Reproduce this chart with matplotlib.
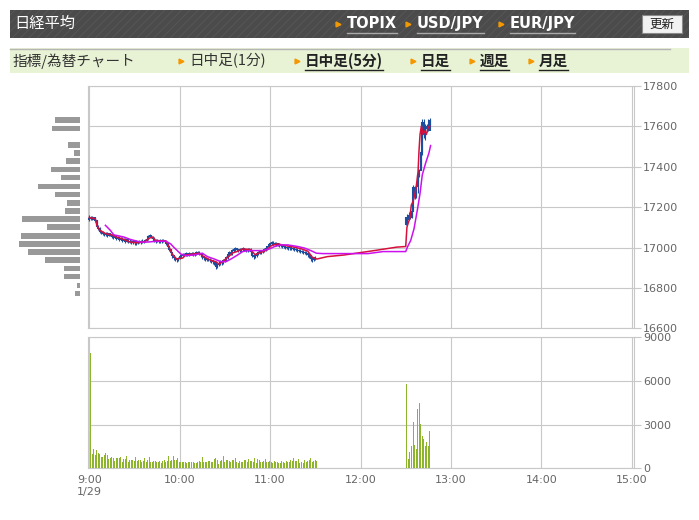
import matplotlib

matplotlib.use("Agg")
import matplotlib.pyplot as plt
from matplotlib.patches import Rectangle
from matplotlib.lines import Line2D

plt.rcParams["font.family"] = ["Noto Sans CJK JP", "DejaVu Sans"]
plt.rcParams["hatch.linewidth"] = 0.6

W, H = 699, 520

# ---- data (minutes after 9:00) ----
am_first_open = 17140
am_close = [
    17145, 17150, 17140, 17148, 17135, 17105, 17095, 17080, 17075, 17070,
    17065, 17070, 17060, 17068, 17062, 17055, 17050, 17058, 17045, 17050,
    17040, 17045, 17035, 17042, 17030, 17038, 17028, 17032, 17025, 17030,
    17022, 17028, 17025, 17030, 17024, 17032, 17028, 17035, 17040, 17055,
    17060, 17050, 17045, 17035, 17030, 17032, 17028, 17035, 17030, 17033,
    17028, 17020, 17005, 16990, 16975, 16960, 16950, 16945, 16940, 16948,
    16955, 16962, 16968, 16965, 16970, 16966, 16970, 16968, 16972, 16965,
    16970, 16975, 16978, 16970, 16965, 16955, 16950, 16945, 16940, 16942,
    16938, 16935, 16930, 16925, 16905, 16915, 16920, 16930, 16925, 16935,
    16940, 16950, 16965, 16975, 16970, 16985, 16990, 16995, 16990, 16985,
    16992, 16988, 16995, 16990, 16985, 16990, 16992, 16980, 16960, 16955,
    16960, 16970, 16975, 16980, 16978, 16985, 16990, 16995, 17005, 17015,
    17020, 17025, 17020, 17022, 17018, 17015, 17012, 17010, 17005, 17008,
    17000, 17003, 16998, 17000, 16995, 16998, 16990, 16993, 16985, 16988,
    16980, 16982, 16975, 16978, 16970, 16965, 16960, 16945, 16940, 16945,
    16950,
]
am_high = [
    17160, 17158, 17155, 17152, 17150, 17138, 17110, 17100, 17088, 17082,
    17078, 17076, 17075, 17074, 17072, 17068, 17062, 17064, 17062, 17056,
    17055, 17052, 17050, 17048, 17046, 17044, 17042, 17040, 17038, 17036,
    17034, 17035, 17034, 17038, 17036, 17040, 17038, 17042, 17048, 17060,
    17068, 17064, 17055, 17050, 17040, 17040, 17038, 17042, 17040, 17040,
    17038, 17032, 17024, 17010, 16995, 16980, 16965, 16955, 16950, 16955,
    16962, 16968, 16975, 16974, 16976, 16975, 16976, 16975, 16978, 16976,
    16976, 16982, 16985, 16982, 16975, 16968, 16960, 16955, 16950, 16950,
    16948, 16945, 16940, 16935, 16930, 16920, 16926, 16936, 16935, 16942,
    16948, 16958, 16972, 16982, 16980, 16992, 16998, 17002, 17000, 16995,
    16998, 16998, 17002, 17000, 16995, 16996, 16998, 16996, 16984, 16965,
    16966, 16976, 16982, 16986, 16986, 16990, 16996, 17002, 17010, 17022,
    17026, 17030, 17030, 17028, 17026, 17024, 17020, 17018, 17015, 17014,
    17012, 17010, 17008, 17006, 17004, 17004, 17002, 17000, 16998, 16994,
    16992, 16988, 16986, 16984, 16982, 16975, 16970, 16964, 16950, 16952,
    16956,
]
am_low = [
    17132, 17138, 17135, 17135, 17128, 17100, 17085, 17072, 17065, 17062,
    17058, 17058, 17052, 17055, 17055, 17045, 17042, 17045, 17038, 17040,
    17032, 17035, 17028, 17030, 17022, 17025, 17020, 17022, 17018, 17018,
    17015, 17015, 17018, 17020, 17016, 17020, 17020, 17025, 17030, 17036,
    17050, 17045, 17038, 17028, 17022, 17025, 17020, 17022, 17024, 17025,
    17020, 17012, 16998, 16982, 16965, 16950, 16940, 16932, 16930, 16935,
    16942, 16950, 16958, 16958, 16960, 16960, 16960, 16962, 16962, 16958,
    16960, 16965, 16970, 16962, 16955, 16945, 16940, 16935, 16932, 16932,
    16930, 16925, 16920, 16915, 16893, 16898, 16908, 16912, 16915, 16920,
    16928, 16935, 16945, 16960, 16962, 16965, 16978, 16985, 16982, 16978,
    16980, 16980, 16982, 16982, 16978, 16978, 16984, 16972, 16952, 16945,
    16948, 16955, 16965, 16970, 16970, 16972, 16978, 16985, 16990, 17000,
    17010, 17015, 17012, 17014, 17010, 17008, 17005, 17002, 16998, 16998,
    16992, 16994, 16990, 16990, 16986, 16988, 16982, 16984, 16978, 16978,
    16972, 16972, 16966, 16968, 16962, 16955, 16948, 16935, 16930, 16934,
    16940,
]
am_vol = [
    7900, 1000, 1300, 900, 1250, 1050, 980, 800, 780, 880,
    1050, 900, 650, 720, 750, 720, 480, 720, 680, 700,
    800, 450, 650, 650, 850, 460, 560, 580, 580, 500,
    750, 480, 550, 550, 440, 500, 720, 460, 560, 800,
    440, 420, 520, 500, 460, 460, 520, 350, 500, 550,
    400, 500, 860, 500, 550, 870, 600, 560, 720, 420,
    420, 420, 450, 400, 380, 450, 420, 440, 400, 380,
    380, 450, 500, 450, 800, 450, 400, 450, 500, 480,
    450, 420, 650, 700, 580, 300, 500, 580, 850, 400,
    550, 560, 500, 420, 550, 600, 700, 400, 350, 500,
    450, 400, 600, 550, 400, 650, 480, 480, 450, 700,
    380, 650, 600, 400, 420, 500, 650, 400, 450, 520,
    420, 350, 500, 420, 400, 350, 380, 480, 420, 350,
    500, 450, 400, 600, 500, 700, 520, 480, 650, 360,
    400, 350, 600, 400, 500, 550, 700, 400, 500, 600,
    500,
]

pm_start = 210  # 12:30
pm_first_open = 17150
pm_close = [17115, 17140, 17160, 17150, 17180, 17300, 17250, 17300, 17355,
            17380, 17470, 17620, 17560, 17600, 17590, 17580, 17630]
pm_high = [17152, 17168, 17175, 17185, 17190, 17310, 17305, 17320, 17360,
           17390, 17477, 17635, 17635, 17610, 17610, 17635, 17643]
pm_low = [17110, 17135, 17140, 17143, 17148, 17227, 17240, 17245, 17268,
          17350, 17385, 17460, 17540, 17535, 17570, 17575, 17600]
pm_vol = [5790, 610, 1090, 1500, 3200, 1630, 1360, 4090, 4500, 3060,
          2250, 2040, 1500, 1840, 1500, 2590]

# moving averages
ma_short_t = [0, 4, 5, 7, 11, 15, 18, 23, 27, 32, 37, 40, 42, 44, 51, 53, 55,
              58, 62, 64, 73, 76, 81, 84, 86, 88, 92, 95, 98, 102, 107, 110,
              113, 117, 121, 125, 130, 136, 141, 145, 148, 151, 158, 169, 180,
              191, 204, 210, 210.8, 211.5, 212.7, 213.7, 214.8, 216, 217,
              218.2, 218.8, 219.5, 220.4, 221.5, 222.6, 223.7, 224.8, 225.9]
ma_short_v = [17148, 17143, 17110, 17085, 17068, 17063, 17052, 17040, 17027,
              17023, 17030, 17047, 17052, 17035, 17032, 17002, 16968, 16943,
              16948, 16963, 16972, 16955, 16935, 16930, 16918, 16927, 16952,
              16973, 16980, 16993, 16990, 16965, 16973, 16985, 17010, 17018,
              17010, 17002, 16993, 16982, 16952, 16943, 16955, 16963, 16975,
              16987, 17002, 17005, 17100, 17118, 17143, 17210, 17227, 17260,
              17302, 17377, 17477, 17560, 17602, 17560, 17577, 17560, 17593,
              17602]
ma_long_t = [10.7, 14, 16.2, 23, 27.3, 34, 38.4, 43, 50.7, 54, 56, 60.7, 64,
             69.6, 75, 78.4, 83, 87.3, 90.7, 94, 98.4, 101.8, 106, 110.7, 115,
             119.6, 123, 127, 131.8, 138.4, 143, 147, 150.7, 155, 185, 195,
             210, 211.1, 213.3, 215.5, 217.7, 219.5, 221, 223.2, 225.4, 226.5]
ma_long_v = [17110, 17085, 17063, 17052, 17040, 17027, 17027, 17030, 17032,
             17018, 17002, 16968, 16960, 16963, 16972, 16955, 16943, 16930,
             16930, 16943, 16963, 16980, 16985, 16985, 16985, 16993, 17005,
             17013, 17013, 17005, 16997, 16985, 16972, 16970, 16970, 16980,
             16980, 17002, 17035, 17093, 17185, 17268, 17360, 17418, 17468,
             17505]

# volume-by-price profile (left side)
profile_price = [17630, 17590, 17507, 17467, 17427, 17387, 17347, 17302,
                 17262, 17222, 17182, 17142, 17102, 17057, 17017, 16977,
                 16937, 16897, 16857, 16812, 16772]
profile_vol = [25, 28, 12, 6, 14, 29, 19, 42, 25, 13, 15, 58, 33, 59, 61,
               52, 35, 16, 16, 3, 5]

hour_labels = ["9:00\n1/29", "10:00", "11:00", "12:00", "13:00", "14:00", "15:00"]
price_ticks = [16600, 16800, 17000, 17200, 17400, 17600, 17800]
vol_ticks = [0, 3000, 6000, 9000]

# ---- styles ----
GRID = "#c8c8c8"
TICKC = "#666666"
CANDLE = "#1c4ea0"
RED = "#d6103c"
MAG = "#cc11ee"
VOLC = "#8db52b"
PX = 0.72  # one pixel in points


def fx(x):
    return x / W


def fy(y):
    return 1 - y / H


def style_axes(ax):
    for s in ax.spines.values():
        s.set_color(GRID)
        s.set_linewidth(0.8)
    ax.grid(True, color=GRID, linewidth=0.8)
    ax.set_axisbelow(True)
    ax.yaxis.tick_right()
    ax.tick_params(axis="y", colors=GRID, length=5, width=0.8, pad=1.5,
                   labelcolor=TICKC, labelsize=8)
    for lab in ax.get_yticklabels():
        lab.set_family("DejaVu Sans")


fig = plt.figure(figsize=(W / 100, H / 100), dpi=100)
fig.patch.set_facecolor("white")

# ---- header bars ----
fig.add_artist(Rectangle((fx(10), fy(37.5)), fx(679), 27.5 / H, transform=fig.transFigure,
                         facecolor="#4b4b4b", edgecolor="#585858", hatch="////", linewidth=0))
fig.text(fx(14), fy(23.5), "日経平均", color="white", fontsize=11, va="center", ha="left")
for tx, label in [(338, "TOPIX"), (408, "USD/JPY"), (501, "EUR/JPY")]:
    fig.add_artist(Line2D([fx(tx)], [fy(24)], marker=">", markersize=3.5, color="#f39800",
                          transform=fig.transFigure))
    fig.text(fx(tx + 9), fy(23.5), label, color="white", fontsize=10.5, fontweight="bold",
             va="center", ha="left", family=["DejaVu Sans"])
fig.canvas.draw()
r = fig.canvas.get_renderer()
for t in fig.texts[1:]:
    bb = t.get_window_extent(r)
    fig.add_artist(Line2D([bb.x0 / W, bb.x1 / W], [fy(33), fy(33)], color="#aaaaaa",
                          linewidth=1.0, transform=fig.transFigure))
fig.add_artist(Rectangle((fx(642), fy(33)), fx(40), 18 / H, transform=fig.transFigure,
                         facecolor="#f2f2f2", edgecolor="#8a8a8a", linewidth=0.8))
fig.text(fx(662), fy(24), "更新", color="#222222", fontsize=9, va="center", ha="center")

fig.add_artist(Rectangle((fx(10), fy(73.5)), fx(679), 25 / H, transform=fig.transFigure,
                         facecolor="#e8f2d5", edgecolor="none"))
fig.add_artist(Line2D([fx(10), fx(670)], [fy(48.5), fy(48.5)], color="#b5b5b5",
                      linewidth=1.0, transform=fig.transFigure))
fig.text(fx(13), fy(61), "指標/為替チャート", color="#333333", fontsize=10.5, va="center")
fig.add_artist(Line2D([fx(181)], [fy(61)], marker=">", markersize=3.5, color="#f39800",
                      transform=fig.transFigure))
fig.text(fx(189), fy(61), "日中足(1分)", color="#333333", fontsize=10.5, va="center")
for tx, label in [(297, "日中足(5分)"), (413, "日足"), (472, "週足"), (531, "月足")]:
    fig.add_artist(Line2D([fx(tx)], [fy(61)], marker=">", markersize=3.5, color="#f39800",
                          transform=fig.transFigure))
    t = fig.text(fx(tx + 8), fy(61), label, color="#222222", fontsize=10.5,
                 fontweight="bold", va="center")
    bb = t.get_window_extent(r)
    fig.add_artist(Line2D([bb.x0 / W, bb.x1 / W], [fy(69.5), fy(69.5)], color="#222222",
                          linewidth=1.0, transform=fig.transFigure))

# ---- axes ----
L, R = 87.7, 634
ax = fig.add_axes([fx(L), fy(328.3), fx(R - L), (328.3 - 86) / H])
axv = fig.add_axes([fx(L), fy(468.3), fx(R - L), (468.3 - 337.3) / H])
axp = fig.add_axes([0, fy(328.3), fx(80), (328.3 - 86) / H])

xlim = (-1.06, 361.5)
hours = [h * 60 for h in range(len(hour_labels))]

# candles
am_open = [am_first_open] + am_close[:-1]
pm_open = [pm_first_open] + pm_close[:-1]
am_t = list(range(len(am_close)))
pm_t = [pm_start + i for i in range(len(pm_close))]
for t, o, c, h, lo in zip(am_t + pm_t, am_open + pm_open, am_close + pm_close,
                          am_high + pm_high, am_low + pm_low):
    ax.vlines(t, lo, h, color=CANDLE, linewidth=0.8, zorder=3)
    ax.vlines(t, min(o, c) - 2, max(o, c) + 2, color=CANDLE, linewidth=1.5, zorder=3)
ax.plot(ma_short_t, ma_short_v, color=RED, linewidth=1.1, zorder=4)
ax.plot(ma_long_t, ma_long_v, color=MAG, linewidth=1.1, zorder=5)

ax.set_xlim(*xlim)
ax.set_ylim(price_ticks[0], price_ticks[-1])
ax.set_xticks(hours)
ax.set_yticks(price_ticks)
style_axes(ax)
ax.tick_params(axis="x", length=0, labelbottom=False)

# volume (one-pixel bars)
vol_t = am_t + [pm_start + i for i in range(len(pm_vol))]
axv.vlines([t + 0.5 for t in vol_t], 0, am_vol + pm_vol, color=VOLC,
           linewidth=PX, antialiased=False, zorder=3)
axv.set_xlim(*xlim)
axv.set_ylim(vol_ticks[0], vol_ticks[-1])
axv.set_yticks(vol_ticks)
axv.set_xticks(hours)
axv.set_xticklabels(hour_labels)
style_axes(axv)
axv.tick_params(axis="x", length=0, pad=5, labelcolor=TICKC, labelsize=8)
for lab in axv.get_xticklabels():
    lab.set_family("DejaVu Sans")
    lab.set_linespacing(1.25)

# price profile
axp.barh(profile_price, profile_vol, height=28, color="#999999", linewidth=0)
axp.set_xlim(80, 0)
axp.set_ylim(price_ticks[0], price_ticks[-1])
axp.axis("off")

fig.savefig("out.png", dpi=100)
